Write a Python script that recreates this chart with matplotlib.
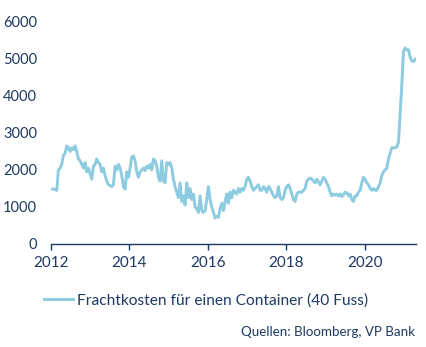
import matplotlib.pyplot as plt
import matplotlib.dates as mdates
import pandas as pd

# freight cost for a 40ft container, roughly every two weeks
freight_2012_2015 = [
    1480, 1490, 1470, 1450, 2000, 2050, 2150, 2400, 2450, 2650,
    2600, 2500, 2600, 2550, 2650, 2500, 2300, 2250, 2150, 2050,
    2200, 1950, 2050, 1900, 1750, 2100, 2150, 2300, 2200, 2150,
    1950, 2050, 1850, 1700, 1600, 1580, 1550, 1600, 2100, 2000,
    2150, 2050, 1850, 1550, 1480, 1950, 1800, 2050, 2350, 2380,
    2250, 1950, 1800, 1950, 2000, 2050, 1980, 2100, 2050, 2150,
    2000, 2300, 2250, 2100, 1800, 1700, 2250, 1700, 1650, 2200,
    2150, 2200, 2050, 1750, 1550, 1400, 1250, 1650, 1150, 1300,
    1050, 1650, 1250, 1500, 1200, 1350, 1000, 950, 850,
]
freight_2016_2021 = [
    1300, 900, 850, 900, 1200, 1550, 1200, 1000, 850, 700,
    750, 720, 950, 1100, 900, 1150, 1350, 1100, 1400, 1250,
    1450, 1400, 1350, 1500, 1400, 1500, 1450, 1550, 1750, 1800,
    1700, 1550, 1450, 1500, 1550, 1600, 1450, 1450, 1550, 1500,
    1400, 1550, 1500, 1400, 1300, 1250, 1300, 1550, 1250, 1200,
    1250, 1450, 1550, 1600, 1500, 1350, 1200, 1150, 1350, 1400,
    1400, 1400, 1450, 1500, 1700, 1750, 1780, 1750, 1700, 1650,
    1750, 1680, 1600, 1700, 1800, 1750, 1650, 1550, 1400, 1300,
    1350, 1320, 1350, 1300, 1350, 1280, 1330, 1400, 1380, 1300,
    1350, 1200, 1150, 1300, 1300, 1400, 1450, 1650, 1800, 1750,
    1650, 1600, 1500, 1450, 1500, 1450, 1450, 1550, 1650, 1850,
    1950, 2000, 2050, 2300, 2450, 2600, 2600, 2600, 2620, 2750,
    3500, 4300, 5200, 5300, 5250, 5250, 5050, 4950, 4930, 4990,
]
freight = freight_2012_2015 + freight_2016_2021
first_date = "2012-01-08"
last_date = "2021-04-15"

series_label = "Frachtkosten für einen Container (40 Fuss)"
source_label = "Quellen: Bloomberg, VP Bank"
y_ticks = [0, 1000, 2000, 3000, 4000, 5000, 6000]
x_years = [2012, 2014, 2016, 2018, 2020]

line_color = "#8ccbe0"
text_color = "#1d3a63"

dates = pd.date_range(first_date, last_date, periods=len(freight))

plt.rcParams["font.family"] = ["Lato", "DejaVu Sans"]

fig = plt.figure(figsize=(4.27, 3.47), dpi=100)
ax = fig.add_axes([0.1194, 0.297, 0.8546, 0.6396])

line, = ax.plot(dates, freight, color=line_color, lw=2.1, solid_joinstyle="round")

ax.set_ylim(0, 6000)
ax.set_xlim(pd.Timestamp("2012-01-01"), pd.Timestamp("2021-04-22"))
ax.set_yticks(y_ticks)
ax.set_yticklabels([str(v) for v in y_ticks])
ax.set_xticks([pd.Timestamp(f"{y}-01-01") for y in x_years])
ax.xaxis.set_major_formatter(mdates.DateFormatter("%Y"))

for side in ["top", "right", "left"]:
    ax.spines[side].set_visible(False)
ax.spines["bottom"].set_color(text_color)
ax.spines["bottom"].set_linewidth(1.0)

ax.tick_params(axis="y", length=0, pad=10, labelsize=10.5, labelcolor=text_color)
ax.tick_params(axis="x", length=4, width=1, color=text_color, pad=5,
               labelsize=11, labelcolor=text_color)

fig.legend([line], [series_label], loc="center", bbox_to_anchor=(0.482, 0.135),
           frameon=False, fontsize=11.2, labelcolor=text_color,
           handlelength=1.9, handletextpad=0.2)

fig.text(0.972, 0.043, source_label, ha="right", va="center",
         fontsize=9.6, color=text_color)

fig.savefig("out.png", dpi=100)
